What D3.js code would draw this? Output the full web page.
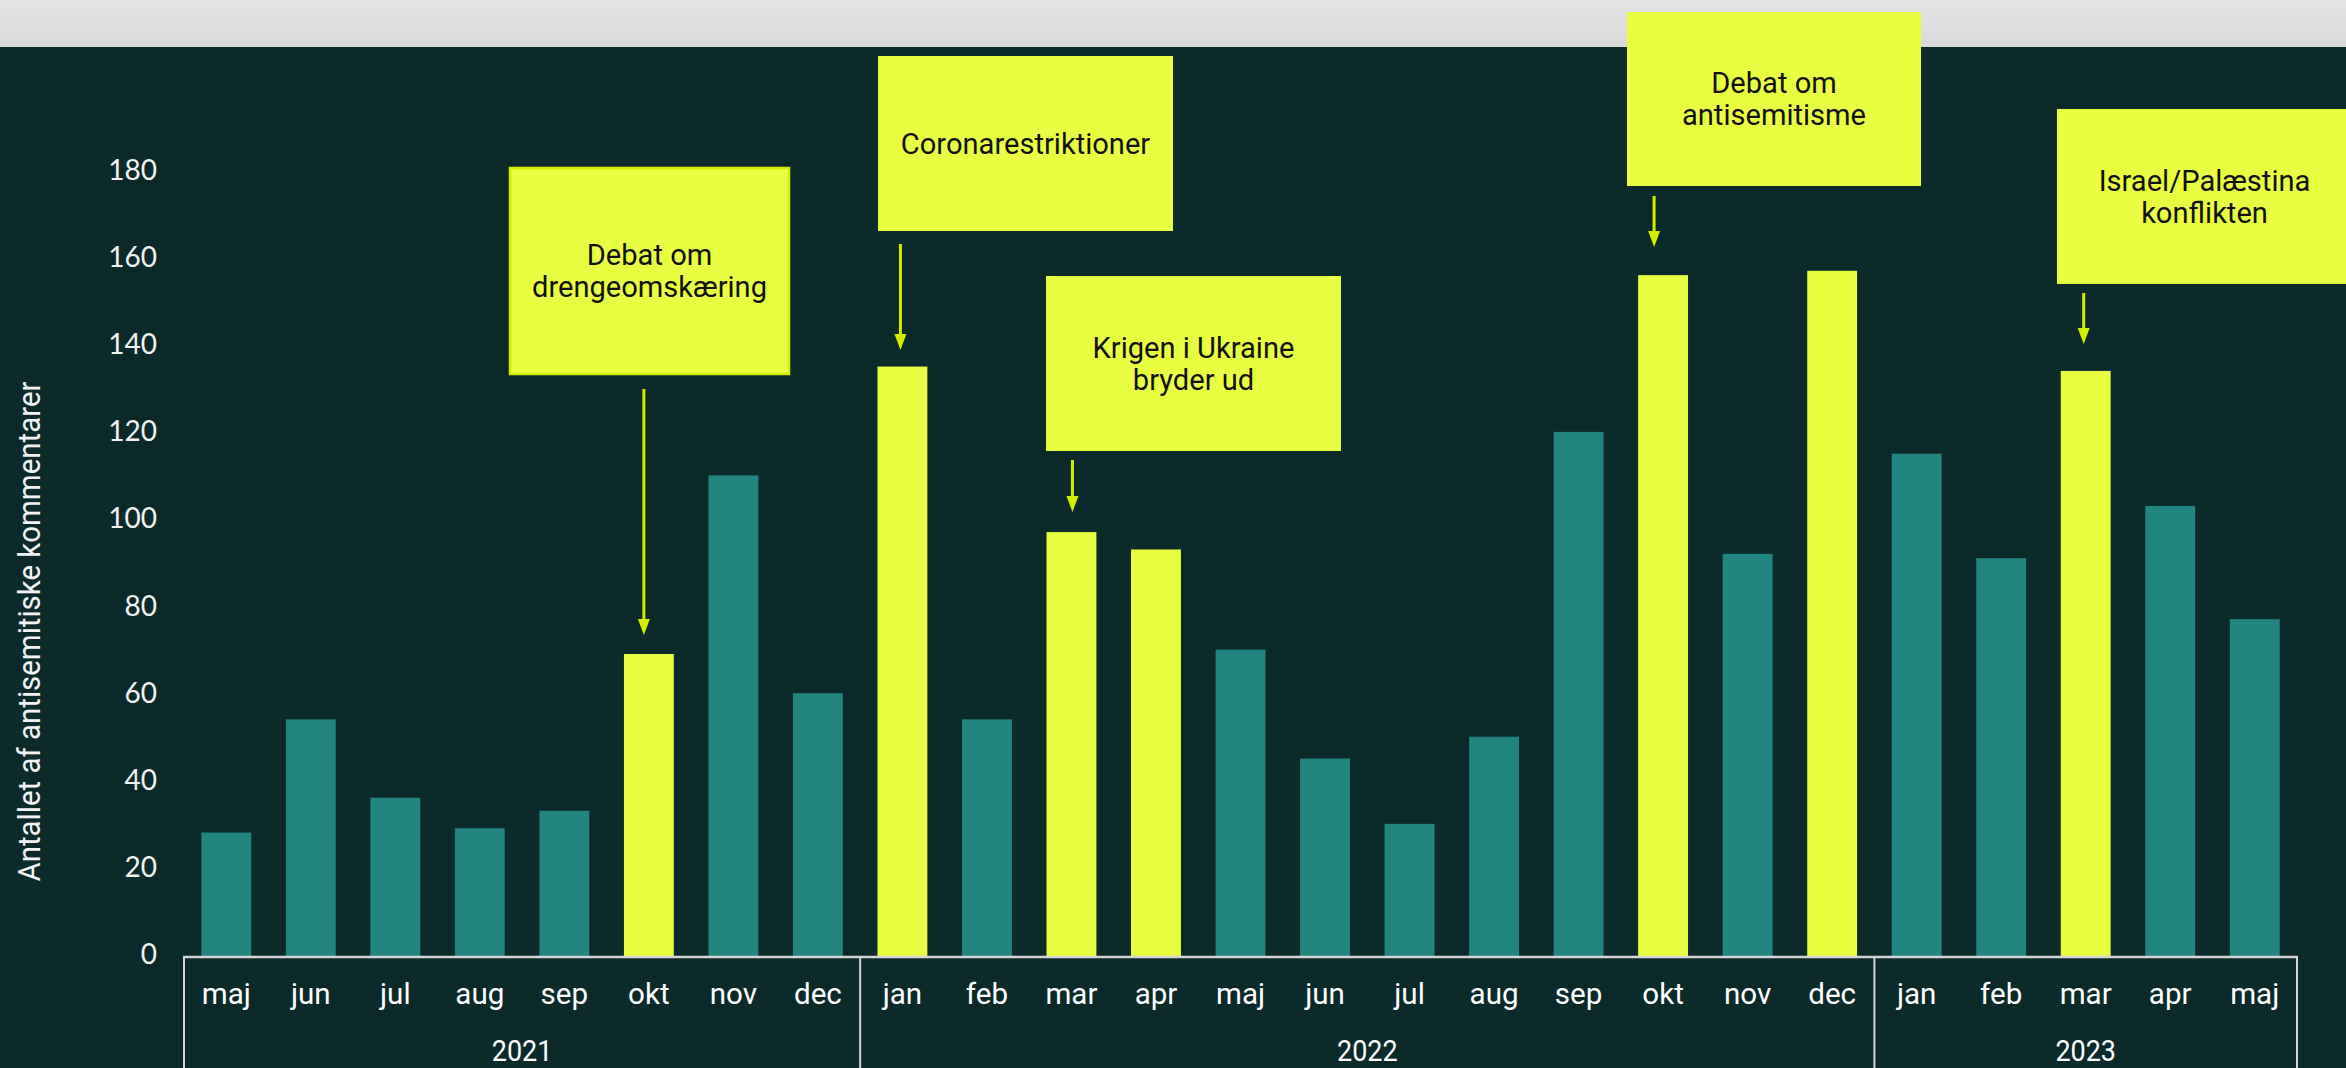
<!DOCTYPE html>
<html>
<head>
<meta charset="utf-8">
<script src="https://cdn.jsdelivr.net/npm/d3@7"></script>
<style>
  html, body { margin: 0; padding: 0; background: #0d2a2b; overflow: hidden; }
  svg { display: block; }
</style>
</head>
<body>
<div id="chart"></div>
<script>
// data
var years = ['2021', '2022', '2023'];
var months2021 = ['maj', 'jun', 'jul', 'aug', 'sep', 'okt', 'nov', 'dec'];
var months2022 = ['jan', 'feb', 'mar', 'apr', 'maj', 'jun', 'jul', 'aug', 'sep', 'okt', 'nov', 'dec'];
var months2023 = ['jan', 'feb', 'mar', 'apr', 'maj'];
var counts2021 = [28, 54, 36, 29, 33, 69, 110, 60];
var counts2022 = [135, 54, 97, 93, 70, 45, 30, 50, 120, 156, 92, 157];
var counts2023 = [115, 91, 134, 103, 77];
var highlighted = ['2021-okt', '2022-jan', '2022-mar', '2022-apr', '2022-okt', '2022-dec', '2023-mar'];
var yTicks = [0, 20, 40, 60, 80, 100, 120, 140, 160, 180];
var yTitle = 'Antallet af antisemitiske kommentarer';
var noteTexts = [
  ['Debat om', 'drengeomskæring'],
  ['Coronarestriktioner'],
  ['Krigen i Ukraine', 'bryder ud'],
  ['Debat om', 'antisemitisme'],
  ['Israel/Palæstina', 'konflikten']
];
var noteTargets = ['2021-okt', '2022-jan', '2022-mar', '2022-okt', '2023-mar'];

// layout for the annotation boxes and arrows (pixels)
var noteLayout = [
  {x: 510, y: 168, w: 279, h: 206, border: true, dx: -5, y1: 389, y2: 635},
  {x: 878, y: 56, w: 295, h: 175, border: false, dx: -2, y1: 244, y2: 350},
  {x: 1046, y: 276, w: 295, h: 175, border: false, dx: 1, y1: 460, y2: 512},
  {x: 1627, y: 12, w: 294, h: 174, border: false, dx: -9, y1: 196, y2: 247},
  {x: 2057, y: 109, w: 295, h: 175, border: false, dx: -2, y1: 293, y2: 344}
];

var width = 2346, height = 1068;
var teal = '#23857f', lime = '#e9fe41', arrowCol = '#d3ed00', bg = '#0d2a2b';
var axisLeft = 184, axisRight = 2297, baseY = 957;

var bars = [];
[[years[0], months2021, counts2021], [years[1], months2022, counts2022], [years[2], months2023, counts2023]]
  .forEach(function(g) {
    g[1].forEach(function(m, i) {
      bars.push({key: g[0] + '-' + m, year: g[0], month: m, value: g[2][i]});
    });
  });

var svg = d3.select('#chart').append('svg')
  .attr('width', width)
  .attr('height', height);

svg.append('rect').attr('width', width).attr('height', height).attr('fill', bg);

// grey strip at the top
var grad = svg.append('defs').append('linearGradient')
  .attr('id', 'topgrad').attr('x1', 0).attr('y1', 0).attr('x2', 0).attr('y2', 1);
grad.append('stop').attr('offset', '0%').attr('stop-color', '#e5e5e5');
grad.append('stop').attr('offset', '100%').attr('stop-color', '#d9d9d9');
svg.append('rect').attr('width', width).attr('height', 47).attr('fill', 'url(#topgrad)');

var xScale = d3.scaleBand()
  .domain(bars.map(d => d.key))
  .range([axisLeft, axisRight])
  .paddingInner(0.41)
  .paddingOuter(0.205);

var yScale = d3.scaleLinear()
  .domain([0, 180])
  .range([954.5, 170.6]);

// text helper with horizontal squeeze
function ctext(parent, x, y, str, size, sx, anchor, family, fill) {
  return parent.append('g')
    .attr('transform', `translate(${x},${y}) scale(${sx},1)`)
    .append('text')
    .attr('text-anchor', anchor)
    .attr('font-family', family)
    .attr('font-size', size)
    .attr('fill', fill)
    .text(str);
}

// y axis labels
var yAxis = d3.axisLeft(yScale).tickValues(yTicks).tickSize(0).tickPadding(0);
var yG = svg.append('g').attr('transform', 'translate(157,0)').call(yAxis);
yG.select('.domain').remove();
yG.selectAll('text')
  .attr('font-family', 'Lato, sans-serif')
  .attr('font-size', 28)
  .attr('fill', '#f2f2f2');

svg.append('g')
  .attr('transform', `translate(40,${(385 + 878) / 2}) rotate(-90)`)
  .call(function(g) { ctext(g, 0, 0, yTitle, 31, 0.95, 'middle', 'Roboto, sans-serif', '#f2f2f2'); });

// bars
svg.append('g').selectAll('rect')
  .data(bars)
  .enter()
  .append('rect')
  .attr('x', d => xScale(d.key))
  .attr('y', d => yScale(d.value))
  .attr('width', xScale.bandwidth())
  .attr('height', d => baseY - yScale(d.value))
  .attr('fill', d => highlighted.indexOf(d.key) >= 0 ? lime : teal);

// category axis box
var axisG = svg.append('g').attr('stroke', '#d4d4d4').attr('fill', 'none');
axisG.append('line').attr('x1', axisLeft - 1).attr('x2', axisRight + 1).attr('y1', baseY).attr('y2', baseY).attr('stroke-width', 2.5);
var step = xScale.step();
var seps = [axisLeft, axisLeft + step * months2021.length, axisLeft + step * (months2021.length + months2022.length), axisRight];
seps.forEach(function(sx) {
  axisG.append('line').attr('x1', sx).attr('x2', sx).attr('y1', baseY).attr('y2', height).attr('stroke-width', 2);
});

var labG = svg.append('g');
bars.forEach(function(d) {
  ctext(labG, xScale(d.key) + xScale.bandwidth() / 2, 1004, d.month, 29, 1.02, 'middle', 'Roboto, sans-serif', '#ffffff');
});
years.forEach(function(yr, i) {
  ctext(labG, (seps[i] + seps[i + 1]) / 2, 1061, yr, 29, 0.93, 'middle', 'Roboto, sans-serif', '#ffffff');
});

// annotations
var noteG = svg.append('g');
noteLayout.forEach(function(n, i) {
  noteG.append('rect')
    .attr('x', n.x).attr('y', n.y).attr('width', n.w).attr('height', n.h)
    .attr('fill', lime)
    .attr('stroke', n.border ? arrowCol : 'none')
    .attr('stroke-width', n.border ? 2.5 : 0);
  var lines = noteTexts[i];
  var lh = 32;
  var cy = n.y + n.h / 2;
  lines.forEach(function(t, j) {
    var by = cy + 10 + (j - (lines.length - 1) / 2) * lh;
    ctext(noteG, n.x + n.w / 2, by, t, 30, 0.97, 'middle', 'Roboto, sans-serif', '#111111');
  });
  var ax = xScale(noteTargets[i]) + xScale.bandwidth() / 2 + n.dx;
  noteG.append('line')
    .attr('x1', ax).attr('x2', ax)
    .attr('y1', n.y1).attr('y2', n.y2 - 12)
    .attr('stroke', arrowCol).attr('stroke-width', 3);
  noteG.append('path')
    .attr('d', `M${ax - 6},${n.y2 - 16} L${ax + 6},${n.y2 - 16} L${ax},${n.y2} Z`)
    .attr('fill', arrowCol);
});
</script>
</body>
</html>
